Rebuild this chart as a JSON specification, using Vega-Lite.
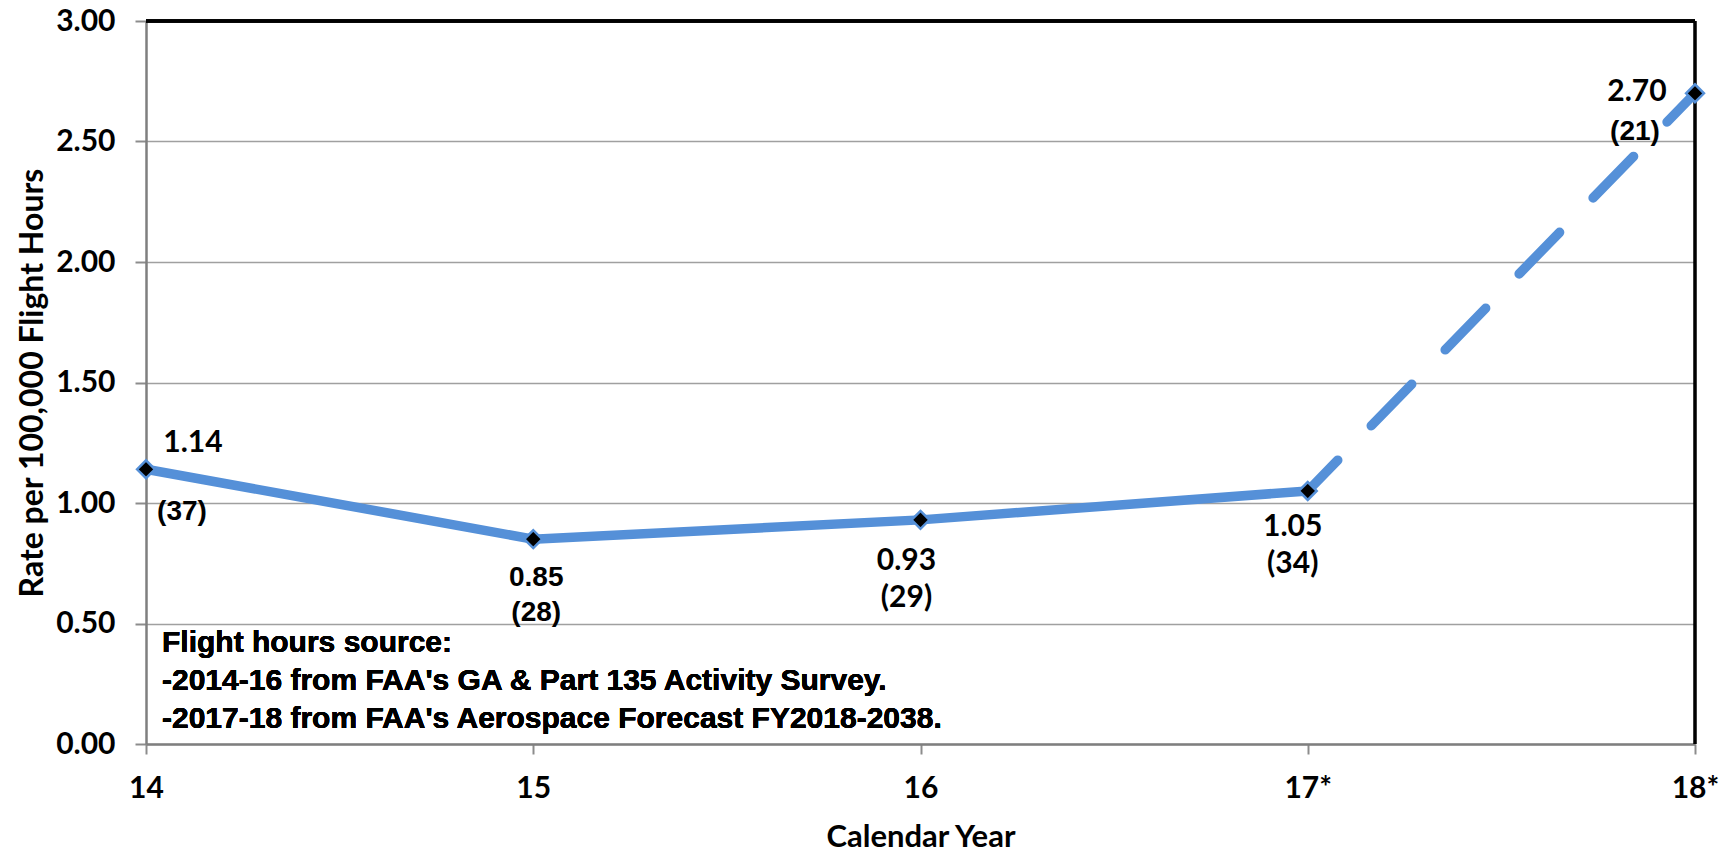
{
  "$schema": "https://vega.github.io/schema/vega-lite/v6.json",
  "width": 1549,
  "height": 723,
  "autosize": {"type": "none"},
  "padding": {"left": 146, "top": 21, "right": 38, "bottom": 109},
  "background": "white",
  "config": {"view": {"stroke": null}},
  "data": {
    "values": [
      {"year": "14", "rate": 1.14, "n_text": "(37)"},
      {"year": "15", "rate": 0.85, "n_text": "(28)"},
      {"year": "16", "rate": 0.93, "n_text": "(29)"},
      {"year": "17*", "rate": 1.05, "n_text": "(34)"},
      {"year": "18*", "rate": 2.70, "n_text": "(21)"}
    ]
  },
  "encoding": {
    "x": {
      "field": "year", "type": "ordinal", "sort": null,
      "scale": {"type": "point", "padding": 0, "domain": ["14", "15", "16", "17*", "18*"]},
      "axis": {
        "title": "Calendar Year", "labelAngle": 0,
        "labelFont": "Lato", "labelFontSize": 30, "labelFontWeight": "bold", "labelColor": "#000",
        "titleFont": "Lato", "titleFontSize": 31, "titleFontWeight": "bold", "titleColor": "#000",
        "labelPadding": 19, "titlePadding": 19,
        "domainColor": "#7f7f7f", "domainWidth": 2.5, "tickColor": "#8c8c8c", "tickWidth": 2, "tickSize": 10,
        "grid": false
      }
    },
    "y": {
      "field": "rate", "type": "quantitative",
      "scale": {"domain": [0, 3]},
      "axis": {
        "title": "Rate per 100,000 Flight Hours", "values": [0, 0.5, 1, 1.5, 2, 2.5, 3], "format": ".2f",
        "labelFont": "Lato", "labelFontSize": 30, "labelFontWeight": "bold", "labelColor": "#000",
        "titleFont": "Lato", "titleFontSize": 32, "titleFontWeight": "bold", "titleColor": "#000",
        "labelPadding": 20, "titlePadding": 6,
        "domainColor": "#7f7f7f", "domainWidth": 2.5, "tickColor": "#8c8c8c", "tickWidth": 2, "tickSize": 11,
        "grid": true, "gridColor": "#a0a0a0", "gridWidth": 1.5
      }
    }
  },
  "layer": [
    {
      "transform": [{"filter": "datum.year != '18*'"}],
      "mark": {"type": "line", "color": "#5590d8", "strokeWidth": 9.5}
    },
    {
      "transform": [{"filter": "datum.year == '17*' || datum.year == '18*'"}],
      "mark": {"type": "line", "color": "#5590d8", "strokeWidth": 9.5, "strokeDash": [58, 48], "strokeDashOffset": 15, "strokeCap": "round"}
    },
    {"mark": {"type": "rule", "color": "#000", "strokeWidth": 3}, "encoding": {"y": {"datum": 3}, "x": null}},
    {"mark": {"type": "rule", "color": "#000", "strokeWidth": 2.5}, "encoding": {"x": {"datum": "18*"}, "y": null}},
    {"mark": {"type": "point", "shape": "diamond", "size": 320, "filled": true, "fill": "#000", "stroke": "#5590d8", "strokeWidth": 2.5, "opacity": 1}},
    {
      "transform": [{"filter": "datum.year == '14'"}],
      "layer": [
        {"mark": {"type": "text", "font": "Lato", "fontSize": 30, "fontWeight": "bold", "color": "#000", "dx": 47, "dy": -26}, "encoding": {"text": {"field": "rate", "format": ".2f"}}},
        {"mark": {"type": "text", "font": "Liberation Sans", "fontSize": 28, "fontWeight": "bold", "color": "#000", "dx": 36, "dy": 43}, "encoding": {"text": {"field": "n_text"}}}
      ]
    },
    {
      "transform": [{"filter": "datum.year == '15'"}],
      "layer": [
        {"mark": {"type": "text", "font": "Liberation Sans", "fontSize": 28, "fontWeight": "bold", "color": "#000", "dx": 3, "dy": 39}, "encoding": {"text": {"field": "rate", "format": ".2f"}}},
        {"mark": {"type": "text", "font": "Liberation Sans", "fontSize": 28, "fontWeight": "bold", "color": "#000", "dx": 3, "dy": 74}, "encoding": {"text": {"field": "n_text"}}}
      ]
    },
    {
      "transform": [{"filter": "datum.year == '16'"}],
      "layer": [
        {"mark": {"type": "text", "font": "Lato", "fontSize": 30, "fontWeight": "bold", "color": "#000", "dx": -14, "dy": 41}, "encoding": {"text": {"field": "rate", "format": ".2f"}}},
        {"mark": {"type": "text", "font": "Lato", "fontSize": 30, "fontWeight": "bold", "color": "#000", "dx": -14, "dy": 78}, "encoding": {"text": {"field": "n_text"}}}
      ]
    },
    {
      "transform": [{"filter": "datum.year == '17*'"}],
      "layer": [
        {"mark": {"type": "text", "font": "Lato", "fontSize": 30, "fontWeight": "bold", "color": "#000", "dx": -15, "dy": 36}, "encoding": {"text": {"field": "rate", "format": ".2f"}}},
        {"mark": {"type": "text", "font": "Lato", "fontSize": 30, "fontWeight": "bold", "color": "#000", "dx": -15, "dy": 73}, "encoding": {"text": {"field": "n_text"}}}
      ]
    },
    {
      "transform": [{"filter": "datum.year == '18*'"}],
      "layer": [
        {"mark": {"type": "text", "font": "Lato", "fontSize": 30, "fontWeight": "bold", "color": "#000", "dx": -58, "dy": -1}, "encoding": {"text": {"field": "rate", "format": ".2f"}}},
        {"mark": {"type": "text", "font": "Liberation Sans", "fontSize": 28, "fontWeight": "bold", "color": "#000", "dx": -60, "dy": 39}, "encoding": {"text": {"field": "n_text"}}}
      ]
    },
    {
      "mark": {
        "type": "text", "font": "Liberation Sans", "fontSize": 30, "fontWeight": "bold", "color": "#000",
        "align": "left", "baseline": "middle", "dx": 16, "lineHeight": 38,
        "text": ["Flight hours source:", "-2014-16 from FAA's GA & Part 135 Activity Survey.", "-2017-18 from FAA's Aerospace Forecast FY2018-2038."]
      },
      "encoding": {"x": {"datum": "14"}, "y": {"datum": 0.42}}
    }
  ]
}
